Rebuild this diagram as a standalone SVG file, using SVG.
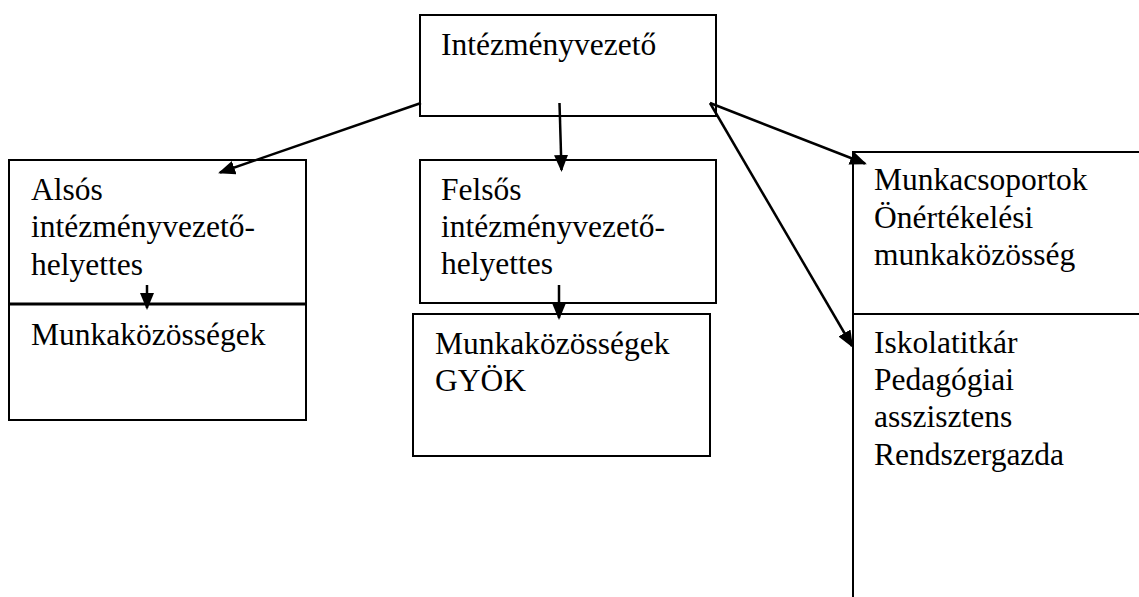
<svg xmlns="http://www.w3.org/2000/svg" width="1139" height="597" viewBox="0 0 1139 597">
  <style>
    .box { fill: #ffffff; stroke: #000000; stroke-width: 2; }
    .lbl { font-family: "Liberation Serif", "Times New Roman", serif; font-size: 31.5px; fill: #000000; }
    .conn { stroke: #000000; stroke-width: 2.5; fill: none; marker-end: url(#arrow); }
  </style>
  <defs>
    <marker id="arrow" markerUnits="userSpaceOnUse" markerWidth="18" markerHeight="16" refX="15" refY="7" orient="auto">
      <path d="M0,0 L17,7 L0,14 Z" fill="#000000"/>
    </marker>
  </defs>

  <rect width="1139" height="597" fill="#ffffff"/>

  <g id="node-intezmenyvezeto">
    <rect class="box" x="420" y="15" width="296" height="101"/>
    <text class="lbl" x="441" y="55">Intézményvezető</text>
  </g>

  <g id="node-also-helyettes">
    <rect class="box" x="9" y="160" width="297" height="144"/>
    <text class="lbl" x="31" y="200">Alsós</text>
    <text class="lbl" x="31" y="237.3">intézményvezető-</text>
    <text class="lbl" x="31" y="274.6">helyettes</text>
  </g>

  <g id="node-also-munkakozossegek">
    <rect class="box" x="9" y="304" width="297" height="116"/>
    <line x1="9" y1="304" x2="306" y2="304" stroke="#000" stroke-width="3"/>
    <text class="lbl" x="31" y="345">Munkaközösségek</text>
  </g>

  <g id="node-felso-helyettes">
    <rect class="box" x="420" y="160" width="296" height="143"/>
    <text class="lbl" x="441" y="199.5">Felsős</text>
    <text class="lbl" x="441" y="236.8">intézményvezető-</text>
    <text class="lbl" x="441" y="274.1">helyettes</text>
  </g>

  <g id="node-felso-munkakozossegek">
    <rect class="box" x="413" y="314" width="297" height="142"/>
    <text class="lbl" x="435" y="353.5">Munkaközösségek</text>
    <text class="lbl" x="435" y="391">GYÖK</text>
  </g>

  <g id="node-munkacsoportok">
    <rect class="box" x="853" y="152" width="320" height="162"/>
    <text class="lbl" x="874" y="190">Munkacsoportok</text>
    <text class="lbl" x="874" y="227.5">Önértékelési</text>
    <text class="lbl" x="874" y="265">munkaközösség</text>
  </g>

  <g id="node-iskolatitkar">
    <rect class="box" x="853" y="314" width="320" height="320"/>
    <text class="lbl" x="874" y="352.5">Iskolatitkár</text>
    <text class="lbl" x="874" y="390">Pedagógiai</text>
    <text class="lbl" x="874" y="427">asszisztens</text>
    <text class="lbl" x="874" y="464.5">Rendszergazda</text>
  </g>

  <g id="connectors">
    <line class="conn" x1="421" y1="103" x2="220" y2="172.5"/>
    <line class="conn" x1="559.5" y1="103" x2="561.5" y2="170"/>
    <line class="conn" x1="710" y1="103" x2="865" y2="163.5"/>
    <line class="conn" x1="710" y1="103" x2="852" y2="346"/>
    <line class="conn" x1="147" y1="285" x2="147" y2="308"/>
    <line class="conn" x1="559" y1="285" x2="559" y2="318"/>
  </g>
</svg>
